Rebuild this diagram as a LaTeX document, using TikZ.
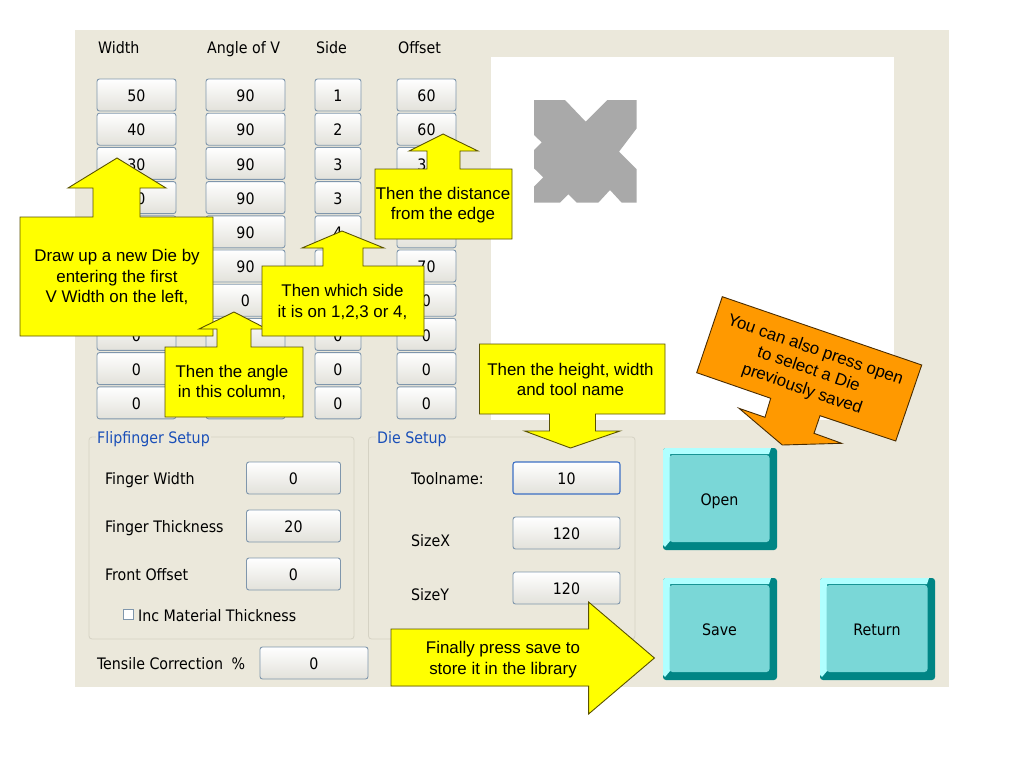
\documentclass[tikz,border=0pt]{standalone}
\usepackage{fontspec}
\setmainfont{Liberation Sans}
\newfontfamily\uifont{DejaVu Sans Condensed}
\definecolor{panel}{HTML}{EBE8DB}
\definecolor{btnedge}{HTML}{7F96AC}
\definecolor{btnlow}{HTML}{E2E1DA}
\definecolor{grpedge}{HTML}{D5D2C4}
\definecolor{grptitle}{HTML}{1A4FB8}
\definecolor{focusedge}{HTML}{3C6FC4}
\definecolor{callout}{HTML}{FFFF00}
\definecolor{calloutedge}{HTML}{5A5200}
\definecolor{orangefill}{HTML}{FF9900}
\definecolor{orangeedge}{HTML}{4A2C00}
\definecolor{faceteal}{HTML}{7AD7D7}
\definecolor{lightteal}{HTML}{B0FFFF}
\definecolor{darkteal}{HTML}{008585}
\definecolor{diegray}{HTML}{A9A9A9}
\tikzset{
  uitext/.style={font=\uifont\fontsize{15.8}{18}\selectfont, text=black, inner sep=0pt},
  uibtn/.style={uitext, draw=btnedge, line width=0.9pt, rounded corners=2.5pt, top color=white, bottom color=btnlow, inner sep=0pt, minimum height=32pt, text height=13.5pt, text depth=0pt},
  uilabel/.style={uitext, anchor=base west},
  grouptitle/.style={uitext, anchor=base west, text=grptitle, fill=panel, inner xsep=1pt},
  groupbox/.style={draw=grpedge, line width=0.8pt, rounded corners=3pt},
  arrowshape/.style={fill=callout, draw=calloutedge, line width=0.9pt, line join=miter},
  callouttext/.style={font=\fontsize{16.9}{20.5}\selectfont, text=black, align=center, inner sep=0pt},
  bigface/.style={uitext, fill=faceteal, rounded corners=3pt, inner sep=0pt, text height=14pt, text depth=0pt}
}
\newcommand{\bigbtn}[6]{%
  \fill[darkteal, rounded corners=3pt] (#1,#2) rectangle (#3,#4);
  \fill[lightteal] (#1,#2+2) -- (#1+2,#2) -- (#3-6,#2) -- (#3-8,#2+6) -- (#1+7,#2+6) -- (#1+7,#4-9) -- (#1+2,#4-3) -- (#1,#4-5) -- cycle;
  \node[bigface, minimum width=#3-#1-14pt, minimum height=#4-#2-15pt] (#5) at ({(#1+#3)/2-0.5},{(#2+#4)/2-0.5}) {#6};
}
\begin{document}
\begin{tikzpicture}[x=1pt,y=-1pt]
\useasboundingbox (0,0) rectangle (1024,768);
\fill[white] (0,0) rectangle (1024,768);
\fill[panel] (75,30) rectangle (949,687);
\fill[white] (491,57) rectangle (894,420);
% die preview
\fill[diegray] (534,100) -- (565,100) -- (585.7,121.7) -- (607.3,100) -- (636.7,100) -- (636.7,128.3) -- (619,151.7) -- (636.7,169.3) -- (636.7,202.7) -- (621.7,202.7) -- (610,190) -- (598.3,202.7) -- (576.7,202.7) -- (568.3,194.3) -- (560,202.7) -- (534,202.7) -- (534,186.7) -- (543.3,177.3) -- (534,168.3) -- (534,150) -- (541.7,142.3) -- (534,135) -- cycle;
% headers
\node[uilabel] (hWidth) at (98,53.5) {Width};
\node[uilabel] (hAngle) at (207,53.5) {Angle of V};
\node[uilabel] (hSide) at (316,53.5) {Side};
\node[uilabel] (hOffset) at (398,53.5) {Offset};
% table
\foreach \i/\a/\b/\c/\d in {0/50/90/1/60,1/40/90/2/60,2/30/90/3/30,3/20/90/3/{},4/{}/90/4/{},5/{}/90/{}/70,6/{}/0/{}/0,7/0/{}/0/0,8/0/{}/0/0,9/0/{}/0/0}{
  \node[uibtn, minimum width=79pt] (w\i) at (136.5,{95+34.2*\i}) {\a};
  \node[uibtn, minimum width=79pt] (g\i) at (245.5,{95+34.2*\i}) {\b};
  \node[uibtn, minimum width=46pt] (s\i) at (338,{95+34.2*\i}) {\c};
  \node[uibtn, minimum width=59pt] (o\i) at (426.5,{95+34.2*\i}) {\d};
}
% group boxes
\draw[groupbox] (89,437) rectangle (354,639);
\draw[groupbox] (368.5,437) rectangle (635,639);
\node[grouptitle] (tFlip) at (96,443.5) {Flipfinger Setup};
\node[grouptitle] (tDie) at (376,443.5) {Die Setup};
\node[uilabel] (lFW) at (105,484.5) {Finger Width};
\node[uilabel] (lFT) at (105,532.5) {Finger Thickness};
\node[uilabel] (lFO) at (105,580.5) {Front Offset};
\node[uibtn, minimum width=94pt] (bFW) at (293.5,478) {0};
\node[uibtn, minimum width=94pt] (bFT) at (293.5,526) {20};
\node[uibtn, minimum width=94pt] (bFO) at (293.5,574) {0};
\node[draw=btnedge, fill=white, minimum size=10pt, inner sep=0pt, line width=0.7pt] (chk) at (128.5,614.5) {};
\node[uilabel] (lInc) at (138,621.5) {Inc Material Thickness};
\node[uilabel] (lTool) at (411,484.5) {Toolname:};
\node[uilabel] (lX) at (411,546.5) {SizeX};
\node[uilabel] (lY) at (411,600.5) {SizeY};
\node[uibtn, draw=focusedge, line width=1.1pt, minimum width=107pt] (bTool) at (566.5,478) {10};
\node[uibtn, minimum width=107pt] (bX) at (566.5,533) {120};
\node[uibtn, minimum width=107pt] (bY) at (566.5,588) {120};
\node[uilabel] (lTens) at (97,669.5) {Tensile Correction\hspace{4pt} \%};
\node[uibtn, minimum width=108pt] (bTens) at (314,663) {0};
% big buttons
\bigbtn{663}{448}{777}{550}{bOpen}{Open}
\bigbtn{663}{578}{777}{680}{bSave}{Save}
\bigbtn{820}{578}{935}{680}{bReturn}{Return}
% callouts
\draw[arrowshape] (20,217) -- (93,217) -- (93,188) -- (68,188) -- (117,158) -- (166,188) -- (140,188) -- (140,217) -- (213,217) -- (213,336) -- (20,336) -- cycle;
\node[callouttext] (tDraw) at (117,277) {Draw up a new Die by\\entering the first\\V Width on the left,};
\draw[arrowshape] (165,347) -- (217,347) -- (217,329) -- (199,329) -- (234,312) -- (267,329) -- (251,329) -- (251,347) -- (303,347) -- (303,417) -- (165,417) -- cycle;
\node[callouttext] (tAngle) at (232,382.5) {Then the angle\\in this column,};
\draw[arrowshape] (262,266) -- (323,266) -- (323,248) -- (302,248) -- (342,231) -- (384,248) -- (363,248) -- (363,266) -- (424,266) -- (424,336) -- (262,336) -- cycle;
\node[callouttext] (tSide) at (342.5,302) {Then which side\\it is on 1,2,3 or 4,};
\draw[arrowshape] (375,169) -- (427,169) -- (427,151) -- (409,151) -- (443,134) -- (478,151) -- (460,151) -- (460,169) -- (512,169) -- (512,239) -- (375,239) -- cycle;
\node[callouttext] (tDist) at (443,205) {Then the distance\\from the edge};
\draw[arrowshape] (479.5,344) -- (665,344) -- (665,414) -- (595.5,414) -- (595.5,431) -- (620,431) -- (570.5,448) -- (524.6,431) -- (549.5,431) -- (549.5,414) -- (479.5,414) -- cycle;
\node[callouttext] (tHeight) at (570.5,379.5) {Then the height, width\\and tool name};
\draw[arrowshape] (391,629) -- (588.6,629) -- (588.6,602) -- (654.4,658) -- (588.6,714) -- (588.6,686) -- (391,686) -- cycle;
\node[callouttext] (tSave) at (503,659.5) {Finally press save to\\store it in the library};
\draw[fill=orangefill, draw=orangeedge, line width=0.9pt] (722.3,296.7) -- (921.7,365) -- (895.7,441) -- (820,415.7) -- (814,433.3) -- (841.7,443.3) -- (782.3,445) -- (739,408.3) -- (765,417.3) -- (770.7,398.3) -- (696.7,372.7) -- cycle;
\node[callouttext, rotate=-19] (tOpen) at (808.5,370) {You can also press open\\to select a Die\\previously saved};
\end{tikzpicture}
\end{document}
